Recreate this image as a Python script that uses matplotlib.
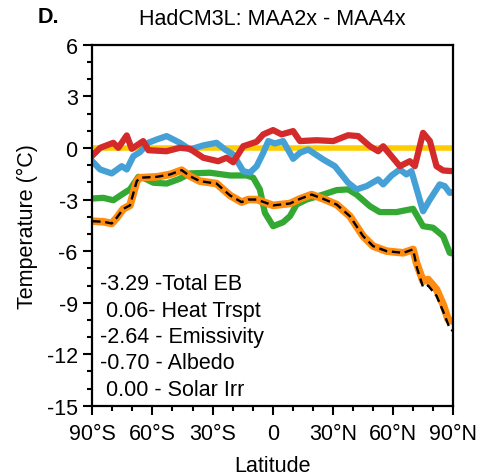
import matplotlib
matplotlib.use("Agg")
import matplotlib.pyplot as plt
from matplotlib.ticker import MultipleLocator, FixedLocator

plt.rcParams['font.family'] = ['Liberation Sans', 'DejaVu Sans']
plt.rcParams['axes.unicode_minus'] = False

# Heat transport (red)
lat_red = [-90, -86, -79.5, -77, -72.8, -70.3, -64.6, -62, -53, -46.3, -41.3, -34.6, -27.2, -23, -19.7,
           -14.7, -8, -4.7, 0.2, 4.4, 10.2, 13.6, 21.9, 30.2, 37.6, 42.6, 48.5, 52.6, 55.1, 63.4, 68.4,
           70.9, 75, 78.4, 81.7, 85, 90]
red = [-0.45, 0.01, 0.30, 0.01, 0.73, -0.05, 0.40, -0.13, -0.19, 0.01, -0.05, -0.57, -0.77, -0.57, -0.83,
       0.10, 0.36, 0.79, 1.04, 0.79, 0.98, 0.40, 0.45, 0.40, 0.74, 0.69, 0.10, -0.19, 0.10, -1.06, -0.77,
       -1.06, 0.88, 0.40, -1.06, -1.31, -1.35]

# Albedo (blue)
lat_blue = [-90, -86.1, -80.3, -75.3, -72.8, -69.5, -66.2, -62.1, -57.9, -52.9, -46.3, -41.3, -34.6, -28,
            -23.8, -19.7, -14.7, -11.4, -8, -4.7, -2.2, 1.1, 5.2, 10.2, 13.6, 17.7, 25.2, 31, 37.6, 41.8,
            46.8, 52.6, 55.1, 59.3, 63.4, 66.7, 69.2, 75, 78.4, 83.3, 85.8, 88.3, 90]
blue = [-0.77, -1.25, -1.48, -1.06, -1.25, -0.48, -0.24, 0.30, 0.49, 0.69, 0.30, -0.09, 0.15, 0.30,
        -0.09, -0.38, -1.35, -1.44, -1.06, -0.28, 0.40, 0.26, 0.40, -0.63, -0.28, -0.09, -0.67, -1.06, -2.02,
        -2.41, -2.22, -1.83, -2.12, -1.60, -1.25, -1.54, -1.35, -3.68, -3.0, -2.12, -2.22, -2.61, -2.57]

# Emissivity (green)
lat_green = [-90, -84.5, -79.5, -74.5, -71.2, -67, -64.6, -59.6, -52.9, -46.3, -41.3, -31.3, -21.3, -13,
             -9.7, -6.4, -3.9, 0.2, 5.2, 8.6, 11.9, 16.9, 25.2, 31.9, 37.6, 41.8, 48.5, 53.4, 61.7, 70,
             75, 80, 85, 88.3, 90]
green = [-2.94, -2.90, -3.04, -2.65, -2.41, -1.68, -1.73, -2.02, -2.07, -1.79, -1.48, -1.44, -1.60, -1.60,
         -1.73, -2.41, -3.77, -4.55, -4.32, -3.97, -3.29, -3.0, -2.71, -2.45, -2.41, -2.71, -3.39, -3.73,
         -3.73, -3.54, -4.55, -4.64, -5.13, -6.10, -6.14]

# Total EB (orange)
lat_orange = [-90, -84.5, -80.3, -77.8, -74.5, -71.2, -67.8, -66.2, -57.9, -51.2, -45.4, -41.3, -36.3,
              -28, -21.3, -15.5, -12.2, -8, 0.2, 8.6, 13.6, 19.4, 25.2, 31.9, 38.5, 45.1, 50.1, 56.8, 65.1,
              70, 71.7, 75, 77.5, 81.7, 85, 87.5, 90]
orange = [-4.26, -4.29, -4.39, -4.06, -3.54, -3.34, -1.93, -1.73, -1.68, -1.54, -1.29, -1.64, -1.93,
          -2.07, -2.76, -3.15, -3.0, -3.0, -3.34, -3.23, -2.96, -2.71, -2.96, -3.29, -3.97, -5.13, -5.71,
          -6.0, -6.10, -5.9, -6.68, -7.75, -7.65, -8.23, -9.10, -9.98, -10.08]

# model temperature difference (black dashed)
lat_black = [-90, -84.5, -80.3, -77.8, -74.5, -71.2, -67.8, -66.2, -57.9, -51.2, -45.4, -41.3, -36.3,
             -28, -21.3, -15.5, -12.2, -8, 0.2, 8.6, 13.6, 19.4, 25.2, 31.9, 38.5, 45.1, 50.1, 56.8, 65.1,
             70, 72, 75, 77.5, 81.7, 85, 88.3, 90]
black = [-4.26, -4.29, -4.39, -4.06, -3.54, -3.34, -1.93, -1.73, -1.68, -1.54, -1.29, -1.64, -1.93,
         -2.07, -2.76, -3.15, -3.0, -3.0, -3.34, -3.23, -2.96, -2.71, -2.96, -3.29, -3.97, -5.13, -5.71,
         -6.0, -6.10, -5.9, -7.0, -8.1, -8.0, -8.6, -9.5, -10.5, -10.66]

# Solar irradiance (yellow)
lat_yellow = [-90, 90]
yellow = [0.0, 0.0]

legend_lines = ["-3.29 -Total EB", " 0.06- Heat Trspt", "-2.64 - Emissivity",
                "-0.70 - Albedo", " 0.00 - Solar Irr"]

xtick_vals = [-90, -60, -30, 0, 30, 60, 90]
xtick_labels = ["90°S", "60°S", "30°S", "0", "30°N", "60°N", "90°N"]

fs = 15.5

fig = plt.figure(figsize=(4.78, 4.77), dpi=100)
ax = fig.add_axes([0.193, 0.147, 0.755, 0.757])

ax.plot(lat_yellow, yellow, color="#ffcc00", lw=4.0, solid_capstyle="butt")
ax.plot(lat_green, green, color="#33a833", lw=4.5)
ax.plot(lat_orange, orange, color="#ff8c0f", lw=5.5)
ax.plot(lat_black, black, color="black", lw=1.7, dashes=(3.5, 2))
ax.plot(lat_blue, blue, color="#45a0d6", lw=4.5)
ax.plot(lat_red, red, color="#d42a2a", lw=4.5)

ax.set_xlim(-90, 90)
ax.set_ylim(-15, 6)
ax.xaxis.set_major_locator(FixedLocator(xtick_vals))
ax.set_xticklabels(xtick_labels)
ax.xaxis.set_minor_locator(MultipleLocator(10))
ax.yaxis.set_major_locator(MultipleLocator(3))
ax.yaxis.set_minor_locator(MultipleLocator(1))
ax.tick_params(which="both", direction="out", width=1.5, labelsize=fs, top=False, right=False)
ax.tick_params(which="major", length=6.5, pad=4)
ax.tick_params(axis="x", which="major", pad=6)
ax.tick_params(which="minor", length=3.5)
for s in ax.spines.values():
    s.set_linewidth(1.6)

ax.set_xlabel("Latitude", fontsize=fs, labelpad=8)
ax.set_ylabel("Temperature (°C)", fontsize=fs, labelpad=6)
ax.set_title("HadCM3L: MAA2x - MAA4x", fontsize=fs, pad=15)
fig.text(0.078, 0.963, "D.", fontsize=fs, fontweight="bold", va="center")

for i, t in enumerate(legend_lines):
    ax.text(-86, -7.9 - i * 1.53, t, fontsize=fs, va="center", ha="left")

fig.savefig("out.png", dpi=100)
